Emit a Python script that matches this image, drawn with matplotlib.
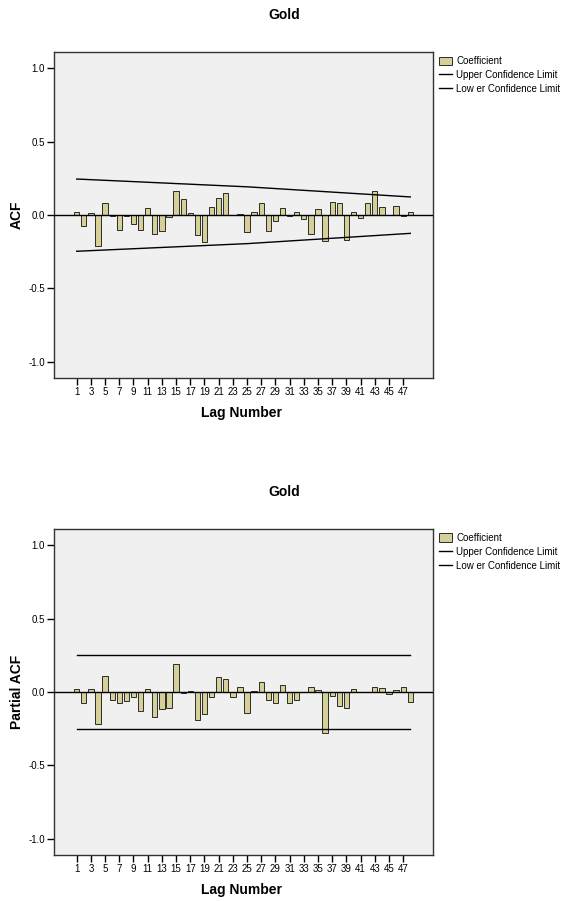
import matplotlib
matplotlib.use('Agg')
import matplotlib.pyplot as plt
from matplotlib.patches import Patch
from matplotlib.lines import Line2D

plt.rcParams['font.family'] = ['Liberation Sans', 'DejaVu Sans']

# lags 1..48
lags = list(range(1, 49))

# ACF coefficients
acf = [0.023, -0.075, 0.016, -0.208, 0.085, -0.007, -0.105, -0.010, -0.060, -0.105,
       0.050, -0.132, -0.110, -0.016, 0.164, 0.112, 0.011, -0.137, -0.187, 0.052,
       0.114, 0.148, 0.003, 0.004, -0.116, 0.018, 0.080, -0.112, -0.043, 0.048,
       -0.007, 0.018, -0.030, -0.130, 0.043, -0.180, 0.087, 0.085, -0.169, 0.018,
       -0.020, 0.080, 0.162, 0.053, 0.002, 0.059, -0.005, 0.018]

# PACF coefficients
pacf = [0.023, -0.078, 0.023, -0.217, 0.107, -0.052, -0.075, -0.062, -0.032, -0.132,
        0.020, -0.171, -0.114, -0.107, 0.194, -0.006, 0.007, -0.192, -0.148, -0.032,
        0.105, 0.091, -0.036, 0.034, -0.146, 0.009, 0.071, -0.057, -0.073, 0.046,
        -0.075, -0.052, 0.002, 0.037, 0.014, -0.279, -0.027, -0.096, -0.107, 0.021,
        -0.003, -0.002, 0.037, 0.030, -0.011, 0.014, 0.037, -0.066]

# confidence limits (read at a few lags)
acf_lim_lags = [1, 25, 48]
acf_upper = [0.245, 0.192, 0.123]
acf_lower = [-0.247, -0.195, -0.125]

pacf_lim_lags = [1, 48]
pacf_upper = [0.253, 0.253]
pacf_lower = [-0.253, -0.253]

yticks = [-1.0, -0.5, 0.0, 0.5, 1.0]
xticks = list(range(1, 48, 2))

bar_color = '#d5cf98'
face = '#f0f0f0'

fig = plt.figure(figsize=(5.69, 9.01), dpi=100)
W, H = 569, 901


def draw_panel(top_px, vals, lim_lags, upper, lower, ylabel):
    left, right, bottom = 54, 433, top_px + 326
    ax = fig.add_axes([left / W, 1 - bottom / H, (right - left) / W, 326 / H])
    ax.set_facecolor(face)
    ax.bar(lags, vals, width=0.75, color=bar_color, edgecolor='#2b2b2b', linewidth=0.7, zorder=2)
    ax.axhline(0, color='black', linewidth=1.0, zorder=3)
    ax.plot(lim_lags, upper, color='black', linewidth=1.0, zorder=3)
    ax.plot(lim_lags, lower, color='black', linewidth=1.0, zorder=3)
    ax.set_xlim(-2.2, 51.2)
    ax.set_ylim(-1.11, 1.11)
    ax.set_yticks(yticks)
    ax.set_yticklabels(['%.1f' % v for v in yticks])
    ax.set_xticks(xticks)
    ax.set_xticklabels([str(x) for x in xticks])
    ax.tick_params(axis='both', direction='out', length=5, width=1, labelsize=7, pad=1.5, color='black')
    for s in ax.spines.values():
        s.set_linewidth(1.0)
        s.set_color('#333333')
    ax.set_xlabel('Lag Number', fontsize=10, fontweight='bold')
    ax.xaxis.set_label_coords(0.495, -28 / 326)
    ax.set_ylabel(ylabel, fontsize=10, fontweight='bold')
    ax.yaxis.set_label_coords(-30 / 379, 0.5)
    fig.text(284.5 / W, 1 - (top_px - 37) / H, 'Gold', ha='center', va='center',
             fontsize=10, fontweight='bold')
    handles = [Patch(facecolor=bar_color, edgecolor='#2b2b2b', linewidth=0.7),
               Line2D([0], [0], color='black', linewidth=1.0),
               Line2D([0], [0], color='black', linewidth=1.0)]
    labels = ['Coefficient', 'Upper Confidence Limit', 'Low er Confidence Limit']
    fig.legend(handles, labels, loc='upper left', bbox_to_anchor=(435 / W, 1 - (top_px) / H),
               frameon=False, fontsize=7, handlelength=1.3, handleheight=0.9,
               handletextpad=0.5, labelspacing=0.4, borderaxespad=0)
    return ax


draw_panel(52, acf, acf_lim_lags, acf_upper, acf_lower, 'ACF')
draw_panel(529, pacf, pacf_lim_lags, pacf_upper, pacf_lower, 'Partial ACF')

fig.savefig('out.png', dpi=100, facecolor='white')
